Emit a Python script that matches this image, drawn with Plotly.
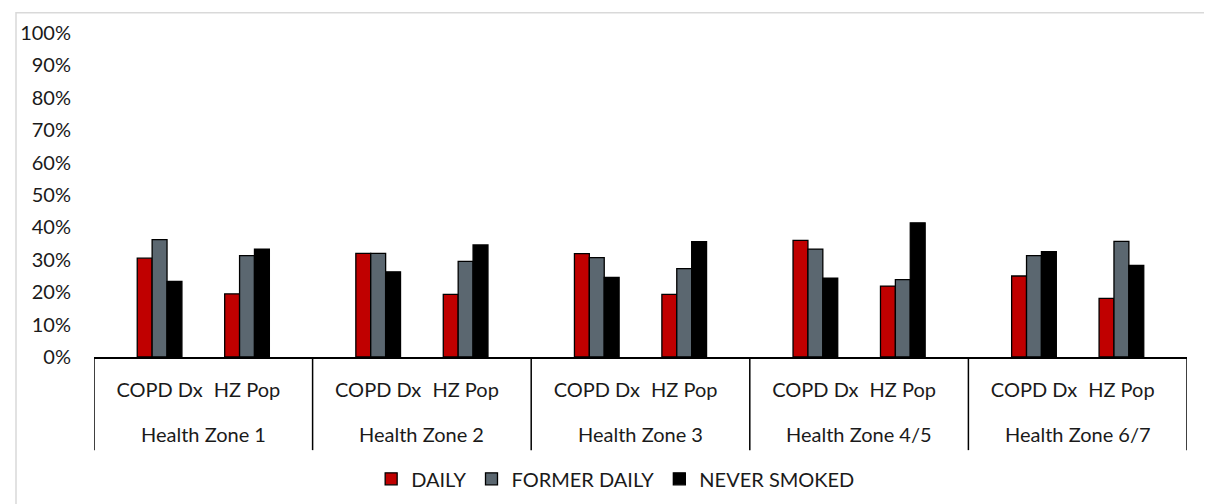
import plotly.graph_objects as go

zones = ["Health Zone 1", "Health Zone 2", "Health Zone 3", "Health Zone 4/5", "Health Zone 6/7"]
subcats = ["COPD Dx", "HZ Pop"]
series_names = ["DAILY", "FORMER DAILY", "NEVER SMOKED"]

# values per zone: [COPD Dx, HZ Pop]
daily = [[0.305, 0.195], [0.320, 0.193], [0.319, 0.193], [0.360, 0.219], [0.250, 0.181]]
former_daily = [[0.362, 0.313], [0.320, 0.295], [0.307, 0.273], [0.333, 0.239], [0.313, 0.357]]
never_smoked = [[0.233, 0.333], [0.263, 0.346], [0.246, 0.356], [0.243, 0.414], [0.325, 0.283]]

colors = ["#C00000", "#5B6770", "#000000"]

# page has an 8px body margin; layout in page pixels
OFF = 8
L, R, T, Z = 87, 1187, 30, 357
PH = Z - T
W, H = 1212, 504

def py(page_y):
    return (Z - page_y) / PH

def px(page_x):
    return (page_x - L) / (R - L)

# numeric positions derived from category indices (group spans 2.5 units)
GROUP = 2.5
xpos, xlab = [], []
for g in range(len(zones)):
    for j, s in enumerate(subcats):
        xpos.append(g * GROUP + 0.75 + j)
        xlab.append(s)

fig = go.Figure()
for name, vals, col in zip(series_names, [daily, former_daily, never_smoked], colors):
    y = [v for pair in vals for v in pair]
    fig.add_trace(go.Bar(x=xpos, y=y, name=name,
                         marker=dict(color=col, line=dict(color="#000000", width=1.3))))

shapes = []
for g in range(len(zones) + 1):
    shapes.append(dict(type="line", xref="x", yref="paper", x0=g * GROUP, x1=g * GROUP,
                       y0=0, y1=py(451), line=dict(color="#000000", width=1.5)))
# outer chart border
shapes.append(dict(type="rect", xref="paper", yref="paper",
                   x0=px(8.5), x1=px(1240), y0=py(540), y1=py(9.5),
                   line=dict(color="#D9D9D9", width=1.5), layer="below"))

annotations = []
for g, z in enumerate(zones):
    annotations.append(dict(x=g * GROUP + GROUP / 2, y=py(435), xref="x", yref="paper",
                            text=z, showarrow=False, yanchor="middle", xanchor="center",
                            font=dict(size=20, color="#1a1a1a")))

fig.update_layout(
    width=W, height=H,
    margin=dict(l=L - OFF, r=W - (R - OFF), t=T - OFF, b=H - (Z - OFF)),
    paper_bgcolor="white", plot_bgcolor="white",
    font=dict(family="Lato, 'Open Sans', sans-serif", size=20, color="#1a1a1a"),
    barmode="group", bargap=0.489, bargroupgap=0,
    showlegend=True,
    legend=dict(orientation="h", x=px(612), xanchor="center", y=py(480), yanchor="middle",
                font=dict(size=20), itemwidth=30, traceorder="normal"),
    shapes=shapes, annotations=annotations,
)
fig.update_xaxes(range=[0, len(zones) * GROUP], tickvals=xpos, ticktext=xlab,
                 showline=True, linecolor="#000000", linewidth=1.5, showgrid=False, zeroline=False,
                 ticks="", ticklabelstandoff=14)
fig.update_yaxes(range=[0, 1], tickformat=".0%", dtick=0.1, showgrid=False, zeroline=False,
                 showline=False, ticks="", ticklabelstandoff=22)

fig.write_html("out.html")
